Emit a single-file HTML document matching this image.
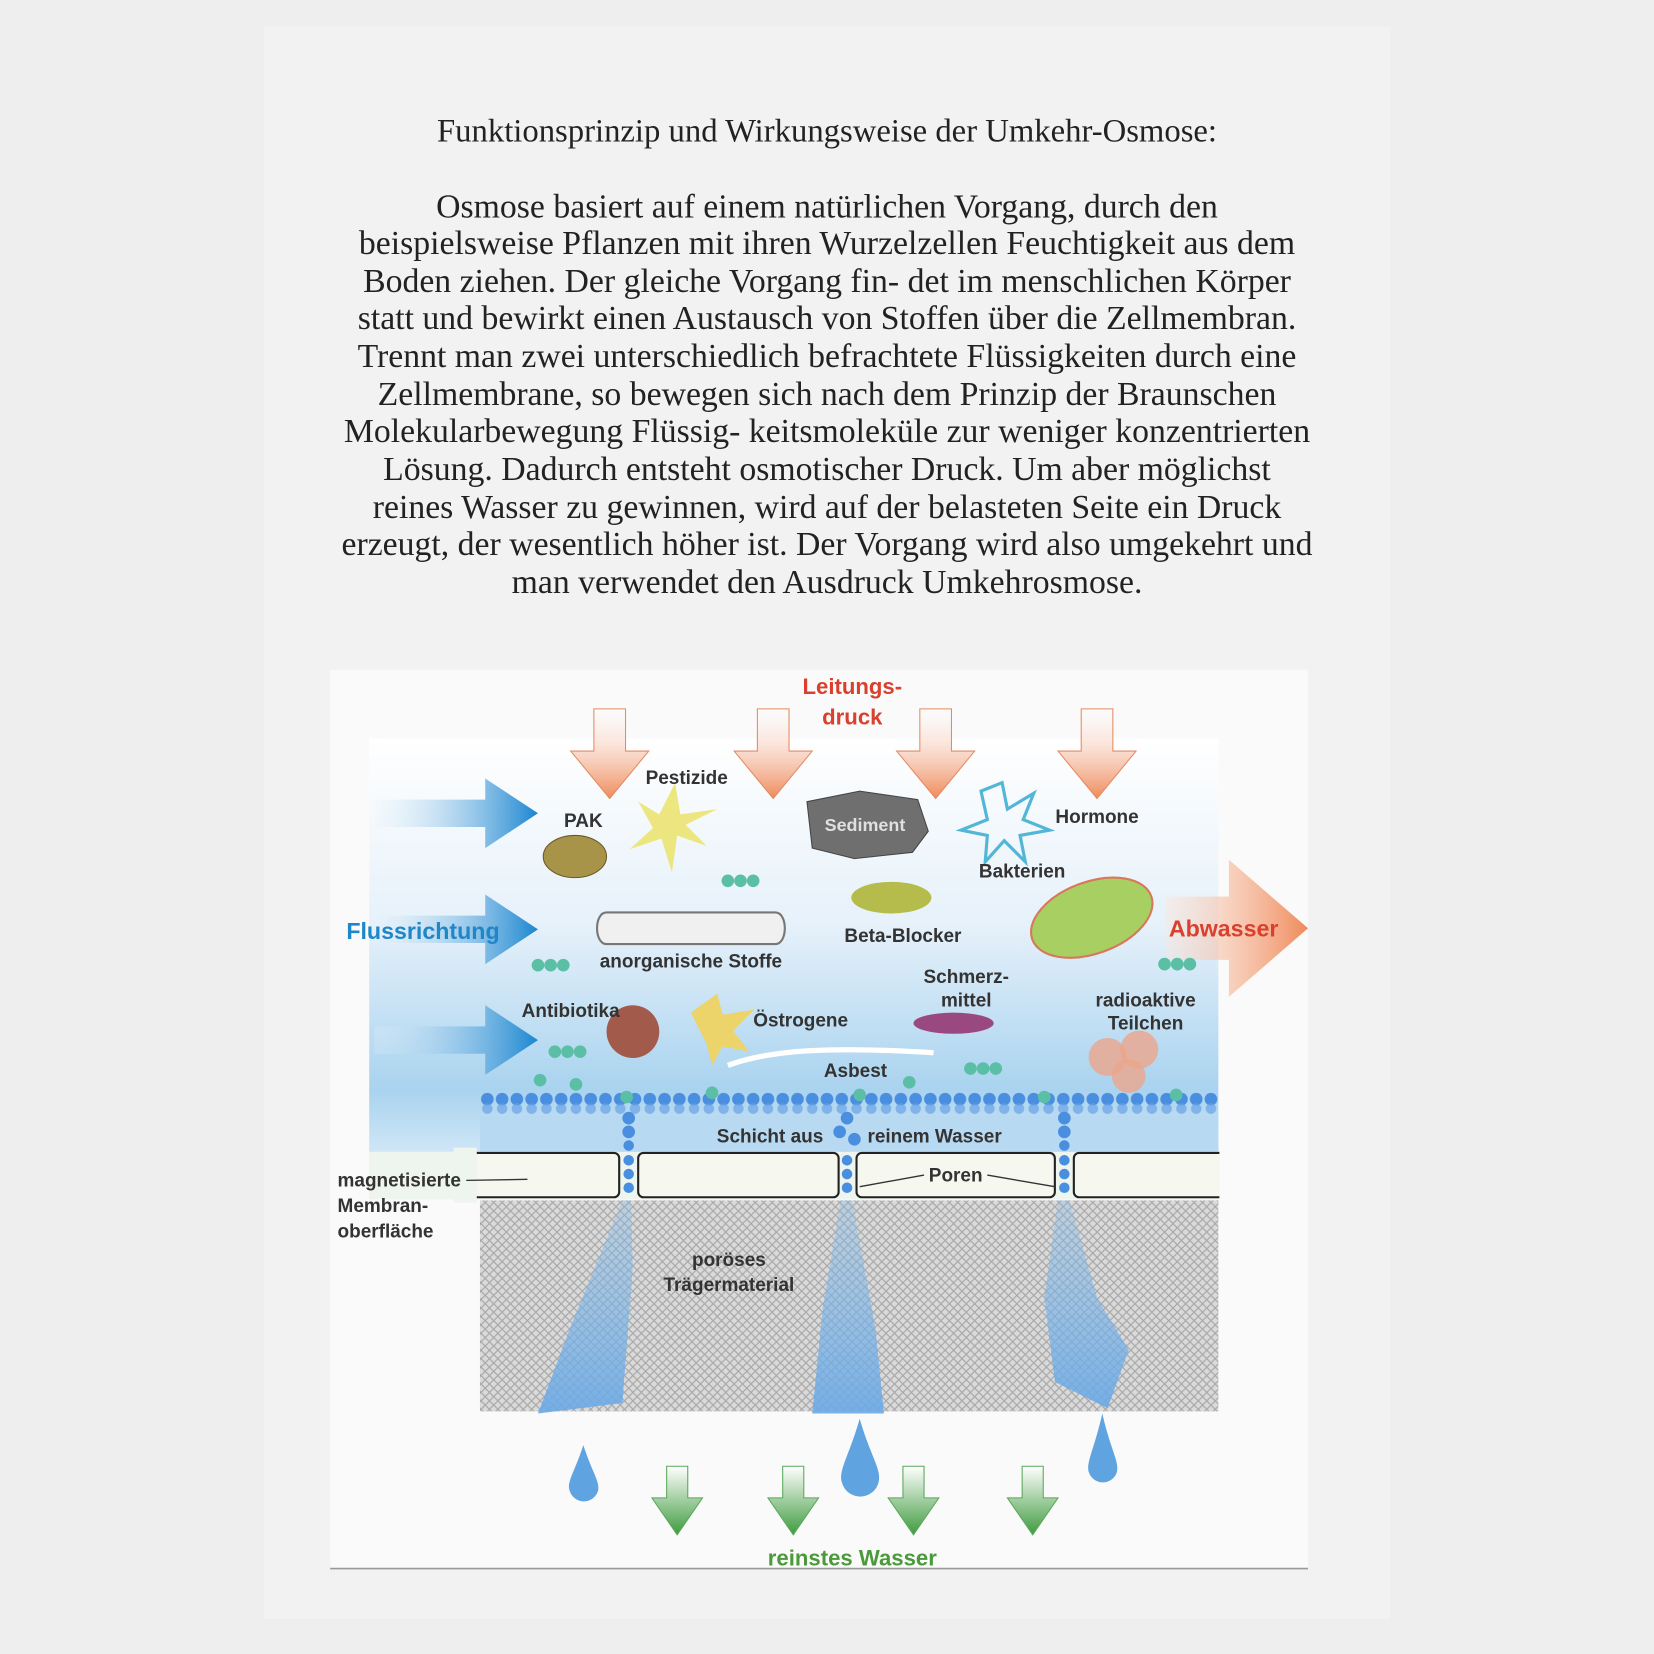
<!DOCTYPE html>
<html><head><meta charset="utf-8">
<style>
html,body{margin:0;padding:0;background:#eeeeee;}
svg{display:block;}
.t{font-family:"Liberation Serif",serif;fill:#222;}
.l{font-family:"Liberation Sans",sans-serif;font-weight:bold;fill:#333;}
</style></head><body>
<svg width="1654" height="1654" viewBox="0 0 1568 1568" xmlns="http://www.w3.org/2000/svg">
<defs>
<linearGradient id="water" x1="0" y1="0" x2="0" y2="1">
<stop offset="0" stop-color="#ffffff"/>
<stop offset="0.45" stop-color="#e6f1fa"/>
<stop offset="0.85" stop-color="#a9d3ef"/>
<stop offset="1" stop-color="#cfe6f6"/>
</linearGradient>
<linearGradient id="barr" x1="0" y1="0" x2="1" y2="0">
<stop offset="0" stop-color="#e9f3fb" stop-opacity="0.2"/>
<stop offset="1" stop-color="#1b86d0"/>
</linearGradient>
<linearGradient id="oarr" x1="0" y1="0" x2="0" y2="1">
<stop offset="0" stop-color="#fff" stop-opacity="0.3"/>
<stop offset="1" stop-color="#ef8a5a"/>
</linearGradient>
<linearGradient id="oarrH" x1="0" y1="0" x2="1" y2="0">
<stop offset="0" stop-color="#fde6da" stop-opacity="0.4"/>
<stop offset="1" stop-color="#ef8a5a"/>
</linearGradient>
<linearGradient id="garr" x1="0" y1="0" x2="0" y2="1">
<stop offset="0" stop-color="#fff"/>
<stop offset="1" stop-color="#3f9b3f"/>
</linearGradient>
<linearGradient id="plume" x1="0" y1="0" x2="0" y2="1">
<stop offset="0" stop-color="#7fb9ea" stop-opacity="0.3"/>
<stop offset="1" stop-color="#6aa9e6" stop-opacity="0.9"/>
</linearGradient>
<pattern id="hatch" width="8" height="8" patternUnits="userSpaceOnUse">
<rect width="8" height="8" fill="#dadada"/>
<path d="M0 0L8 8M8 0L0 8" stroke="#a8a8a8" stroke-width="1.1"/>
</pattern>
<pattern id="beads" x="455" y="1036" width="14" height="20" patternUnits="userSpaceOnUse">
<circle cx="7" cy="6" r="6" fill="#4a8ee0"/>
<circle cx="7" cy="15" r="5" fill="#6aa3e6" opacity="0.7"/>
</pattern>
</defs>
<rect x="250" y="25" width="1068" height="1510" fill="#f2f2f2"/>

<text class="t" x="784" y="134" font-size="31" text-anchor="middle">Funktionsprinzip und Wirkungsweise der Umkehr-Osmose:</text>
<g class="t" font-size="32" text-anchor="middle">
<text x="784" y="206">Osmose basiert auf einem natürlichen Vorgang, durch den</text>
<text x="784" y="241">beispielsweise Pflanzen mit ihren Wurzelzellen Feuchtigkeit aus dem</text>
<text x="784" y="277">Boden ziehen. Der gleiche Vorgang fin- det im menschlichen Körper</text>
<text x="784" y="312">statt und bewirkt einen Austausch von Stoffen über die Zellmembran.</text>
<text x="784" y="348">Trennt man zwei unterschiedlich befrachtete Flüssigkeiten durch eine</text>
<text x="784" y="384">Zellmembrane, so bewegen sich nach dem Prinzip der Braunschen</text>
<text x="784" y="419">Molekularbewegung Flüssig- keitsmoleküle zur weniger konzentrierten</text>
<text x="784" y="455">Lösung. Dadurch entsteht osmotischer Druck. Um aber möglichst</text>
<text x="784" y="491">reines Wasser zu gewinnen, wird auf der belasteten Seite ein Druck</text>
<text x="784" y="526">erzeugt, der wesentlich höher ist. Der Vorgang wird also umgekehrt und</text>
<text x="784" y="562">man verwendet den Ausdruck Umkehrosmose.</text>
</g>

<!-- diagram -->
<rect x="313" y="635" width="927" height="852" fill="#fafafa"/>
<line x1="313" y1="1487" x2="1240" y2="1487" stroke="#999" stroke-width="1.5"/>
<rect x="350" y="700" width="805" height="392" fill="url(#water)"/>
<rect x="455" y="1036" width="700" height="20" fill="url(#beads)"/>
<rect x="455" y="1058" width="700" height="34" fill="#b8d9f2"/>
<rect x="455" y="1138" width="700" height="200" fill="url(#hatch)"/>
<path d="M590 1138 L598 1138 L600 1200 L590 1330 L510 1340 L540 1260 Z" fill="url(#plume)"/>
<path d="M797 1138 L808 1138 L830 1260 L838 1340 L770 1340 L780 1240 Z" fill="url(#plume)"/>
<path d="M1003 1138 L1014 1138 L1040 1230 L1070 1280 L1050 1335 L1000 1310 L990 1230 Z" fill="url(#plume)"/>
<rect x="350" y="1092" width="805" height="45" fill="#eef4ee"/>
<g fill="#f6f8ef" stroke="#222" stroke-width="2">
<rect x="440" y="1093" width="147" height="42" rx="5"/>
<rect x="605" y="1093" width="190" height="42" rx="5"/>
<rect x="812" y="1093" width="188" height="42" rx="5"/>
<rect x="1018" y="1093" width="150" height="42" rx="5"/>
</g>
<rect x="1156" y="1088" width="20" height="52" fill="#fafafa"/>
<rect x="430" y="1088" width="22" height="52" fill="#eef4ee"/>
<g fill="#4a8ee0">
<circle cx="596" cy="1060" r="6"/><circle cx="596" cy="1073" r="6"/><circle cx="596" cy="1086" r="5"/><circle cx="596" cy="1100" r="5"/><circle cx="596" cy="1113" r="5"/><circle cx="596" cy="1126" r="5"/>
<circle cx="803" cy="1060" r="6"/><circle cx="796" cy="1073" r="6"/><circle cx="810" cy="1080" r="6"/><circle cx="803" cy="1100" r="5"/><circle cx="803" cy="1113" r="5"/><circle cx="803" cy="1126" r="5"/>
<circle cx="1009" cy="1060" r="6"/><circle cx="1009" cy="1073" r="6"/><circle cx="1009" cy="1086" r="5"/><circle cx="1009" cy="1100" r="5"/><circle cx="1009" cy="1113" r="5"/><circle cx="1009" cy="1126" r="5"/>
</g>
<g fill="#5bbfa6">
<circle cx="512" cy="1024" r="6"/><circle cx="546" cy="1028" r="6"/><circle cx="594" cy="1040" r="6"/><circle cx="675" cy="1036" r="6"/><circle cx="815" cy="1038" r="6"/><circle cx="862" cy="1026" r="6"/><circle cx="990" cy="1040" r="6"/><circle cx="1115" cy="1038" r="6"/>
</g>
<g fill="#5fa4e0">
<path d="M553 1370 C545 1395 537 1405 540 1413 A14 14 0 0 0 567 1413 C569 1405 561 1395 553 1370Z"/>
<path d="M815 1345 C805 1380 795 1393 798 1405 A18 18 0 0 0 833 1405 C836 1393 825 1380 815 1345Z"/>
<path d="M1045 1340 C1037 1375 1030 1385 1032 1395 A14 14 0 0 0 1059 1395 C1061 1385 1053 1375 1045 1340Z"/>
</g>
<g fill="url(#garr)" stroke="#5aa85a" stroke-width="1">
<path d="M632 1390h20v30h14l-24 35l-24-35h14z"/>
<path d="M742 1390h20v30h14l-24 35l-24-35h14z"/>
<path d="M856 1390h20v30h14l-24 35l-24-35h14z"/>
<path d="M969 1390h20v30h14l-24 35l-24-35h14z"/>
</g>
<g fill="url(#oarr)" stroke="#e58a63" stroke-width="1">
<path d="M563 672h30v40h22l-37 45l-37-45h22z"/>
<path d="M718 672h30v40h22l-37 45l-37-45h22z"/>
<path d="M872 672h30v40h22l-37 45l-37-45h22z"/>
<path d="M1025 672h30v40h22l-37 45l-37-45h22z"/>
</g>
<path d="M1105 850h60v-35l75 65l-75 65v-35h-60z" fill="url(#oarrH)"/>
<g fill="url(#barr)">
<path d="M355 758h105v-20l50 33l-50 33v-20h-105z"/>
<path d="M355 868h105v-20l50 33l-50 33v-20h-105z"/>
<path d="M355 973h105v-20l50 33l-50 33v-20h-105z"/>
</g>
<g>
<ellipse cx="545" cy="812" rx="30" ry="20" fill="#a89448" stroke="#6c5a25"/>
<path d="M605 760l20 12 15-30 5 30 35-5-30 15 20 20-28-10-5 35-10-32-30 10 22-20z" fill="#ebe36a" opacity="0.85"/>
<path d="M765 760l50-10 55 8 10 30-15 20-55 6-40-10z" fill="#6f6f6f" stroke="#444"/>
<text class="l" x="820" y="788" font-size="17" text-anchor="middle" style="fill:#e0e0e0">Sediment</text>
<path d="M930 750l20-8 5 25 25-15-10 25 25 10-28 5 5 25-20-20-18 20 2-25-25-5 25-10z" fill="none" stroke="#52b6d6" stroke-width="3"/>
<path d="M575 865h160c12 0 12 30 0 30h-160c-12 0-12-30 0-30z" fill="#f0f0f0" stroke="#777" stroke-width="2"/>
<ellipse cx="845" cy="851" rx="38" ry="15" fill="#b6bc4c"/>
<ellipse cx="1035" cy="870" rx="60" ry="34" transform="rotate(-20 1035 870)" fill="#a7cf62" stroke="#d8775a" stroke-width="2"/>
<circle cx="600" cy="978" r="25" fill="#a25a4a"/>
<path d="M655 960l25-18 5 20 30-5-20 20 15 20-25-5-10 18-5-20z" fill="#ecd36a"/>
<ellipse cx="904" cy="970" rx="38" ry="10" fill="#9a4880"/>
<path d="M690 1010c40-15 100-18 195-12" stroke="#fff" stroke-width="5" fill="none"/>
<circle cx="1050" cy="1002" r="18" fill="#eca58b" opacity="0.8"/><circle cx="1080" cy="995" r="18" fill="#eca58b" opacity="0.8"/><circle cx="1070" cy="1020" r="16" fill="#eca58b" opacity="0.8"/>
<g fill="#5bbfa6"><circle cx="690" cy="835" r="6"/><circle cx="702" cy="835" r="6"/><circle cx="714" cy="835" r="6"/>
<circle cx="510" cy="915" r="6"/><circle cx="522" cy="915" r="6"/><circle cx="534" cy="915" r="6"/>
<circle cx="526" cy="997" r="6"/><circle cx="538" cy="997" r="6"/><circle cx="550" cy="997" r="6"/>
<circle cx="920" cy="1013" r="6"/><circle cx="932" cy="1013" r="6"/><circle cx="944" cy="1013" r="6"/>
<circle cx="1104" cy="914" r="6"/><circle cx="1116" cy="914" r="6"/><circle cx="1128" cy="914" r="6"/></g>
</g>
<g class="l" font-size="18">
<text x="808" y="658" text-anchor="middle" style="fill:#d9402e" font-size="21">Leitungs-</text>
<text x="808" y="687" text-anchor="middle" style="fill:#d9402e" font-size="21">druck</text>
<text x="651" y="743" text-anchor="middle">Pestizide</text>
<text x="553" y="784" text-anchor="middle">PAK</text>
<text x="1040" y="780" text-anchor="middle">Hormone</text>
<text x="969" y="832" text-anchor="middle">Bakterien</text>
<text x="401" y="890" text-anchor="middle" style="fill:#1f86c8" font-size="22">Flussrichtung</text>
<text x="1160" y="888" text-anchor="middle" style="fill:#d9402e" font-size="22">Abwasser</text>
<text x="856" y="893" text-anchor="middle">Beta-Blocker</text>
<text x="655" y="917" text-anchor="middle">anorganische Stoffe</text>
<text x="916" y="932" text-anchor="middle">Schmerz-</text>
<text x="916" y="954" text-anchor="middle">mittel</text>
<text x="1086" y="954" text-anchor="middle">radioaktive</text>
<text x="1086" y="976" text-anchor="middle">Teilchen</text>
<text x="541" y="964" text-anchor="middle">Antibiotika</text>
<text x="759" y="973" text-anchor="middle">Östrogene</text>
<text x="811" y="1021" text-anchor="middle">Asbest</text>
<text x="730" y="1083" text-anchor="middle">Schicht aus</text>
<text x="886" y="1083" text-anchor="middle">reinem Wasser</text>
<text x="906" y="1120" text-anchor="middle">Poren</text>
<text x="320" y="1125">magnetisierte</text>
<text x="320" y="1149">Membran-</text>
<text x="320" y="1173">oberfläche</text>
<text x="691" y="1200" text-anchor="middle">poröses</text>
<text x="691" y="1224" text-anchor="middle">Trägermaterial</text>
<text x="808" y="1484" text-anchor="middle" style="fill:#4a9a3a" font-size="21">reinstes Wasser</text>
</g>
<g stroke="#333" stroke-width="1.3">
<line x1="442" y1="1119" x2="500" y2="1118"/>
<line x1="876" y1="1114" x2="815" y2="1125"/>
<line x1="936" y1="1114" x2="1000" y2="1125"/>
</g>
</svg>
</body></html>
